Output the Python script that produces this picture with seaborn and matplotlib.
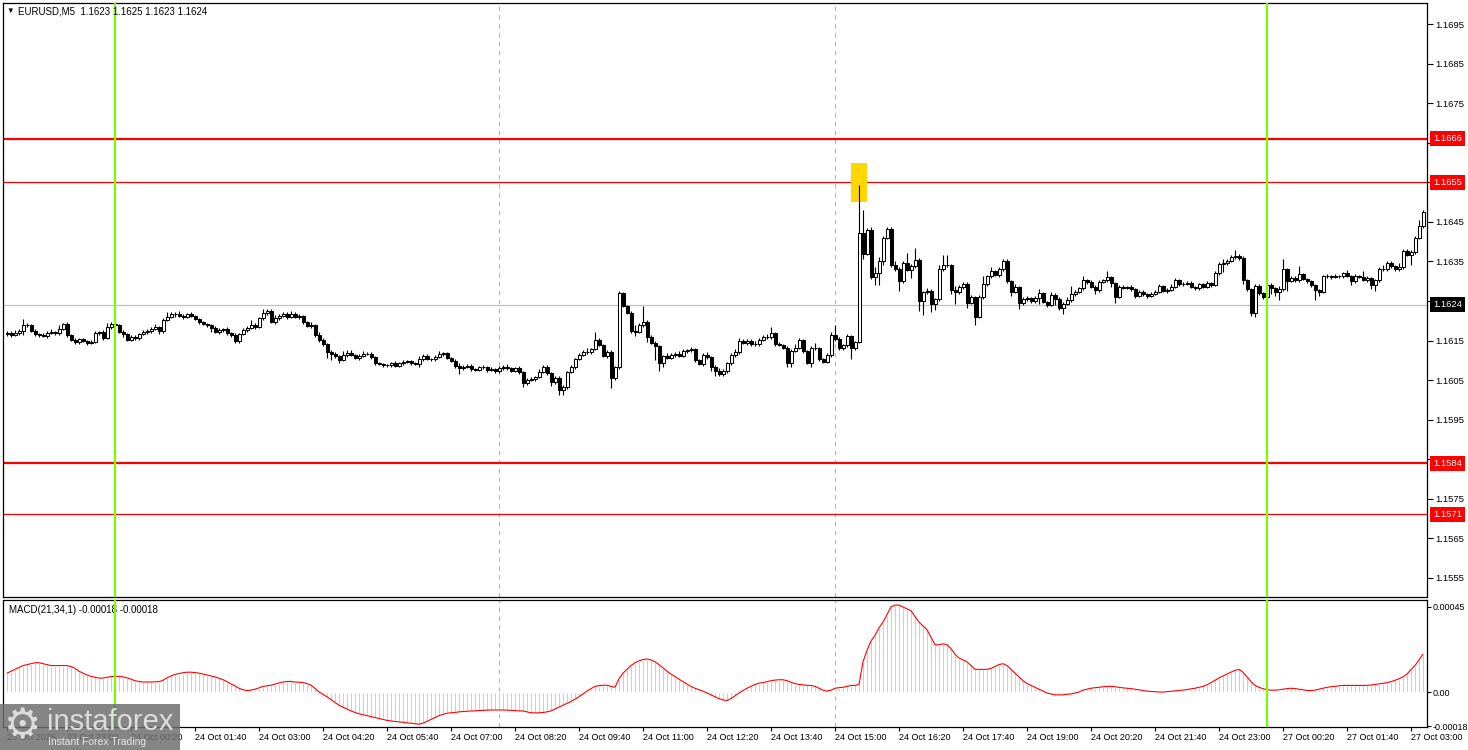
import numpy as np
import pandas as pd
import seaborn as sns
import matplotlib.pyplot as plt
from matplotlib.patches import Rectangle

# --- data (EURUSD M5), prices in pips above 1.1600 ---
base_price = 1.16
first_open = 16.6
close_pips = [
    17.0, 16.5, 17.0, 17.5, 19.0, 18.8, 17.5, 16.6, 16.4, 16.2, 17.0, 17.2, 16.8, 18.0, 19.2, 16.4, 15.2, 14.6, 15.3, 14.8,
    14.4, 14.6, 16.8, 17.2, 15.6, 18.4, 19.2, 18.8, 17.2, 16.6, 15.2, 15.9, 15.6, 16.6, 17.2, 17.4, 17.9, 18.4, 17.3, 20.2,
    21.0, 21.8, 21.6, 21.2, 21.0, 21.6, 21.2, 20.5, 19.6, 19.2, 18.8, 18.2, 17.2, 17.6, 17.9, 16.8, 16.4, 14.8, 16.6, 17.6,
    18.2, 19.0, 18.4, 20.6, 21.9, 22.4, 19.8, 20.6, 21.3, 21.8, 21.0, 21.8, 20.9, 21.2, 19.6, 18.6, 19.0, 16.3, 15.2, 14.0,
    12.2, 11.6, 11.0, 10.0, 11.4, 11.8, 11.4, 10.6, 11.2, 11.6, 11.6, 10.8, 9.2, 9.0, 8.8, 8.8, 9.2, 8.6, 9.2, 9.6,
    9.8, 9.2, 9.0, 10.2, 11.0, 10.4, 10.2, 10.9, 11.6, 11.8, 10.6, 9.8, 8.6, 8.0, 8.4, 8.6, 7.8, 7.6, 8.2, 8.2,
    7.6, 7.8, 7.2, 8.0, 8.4, 8.0, 7.4, 8.0, 7.0, 4.2, 5.0, 5.2, 5.8, 7.0, 8.4, 6.8, 4.4, 5.6, 2.6, 3.2,
    7.0, 8.4, 10.4, 11.4, 12.2, 12.0, 12.8, 15.2, 13.9, 11.2, 12.2, 5.4, 8.2, 26.9, 23.8, 22.0, 17.4, 17.2, 18.8, 19.8,
    16.0, 14.4, 13.6, 9.2, 11.0, 10.6, 11.4, 11.6, 11.2, 12.4, 12.6, 12.8, 10.0, 9.0, 11.4, 10.8, 8.4, 7.4, 6.4, 7.3,
    9.2, 11.4, 12.0, 15.0, 14.4, 15.0, 14.0, 14.2, 15.2, 16.0, 15.8, 16.8, 14.2, 13.8, 13.2, 9.2, 12.4, 13.2, 15.2, 12.4,
    9.4, 13.2, 13.0, 10.2, 9.6, 11.4, 16.4, 15.4, 13.0, 13.8, 16.2, 13.2, 14.6, 42.1, 37.0, 43.0, 31.0, 32.0, 35.0, 41.0,
    43.2, 34.0, 33.0, 30.0, 34.6, 32.8, 33.8, 35.4, 25.0, 27.2, 27.6, 24.2, 25.4, 33.0, 34.2, 34.0, 27.8, 27.2, 28.6, 29.4,
    24.6, 26.0, 21.0, 26.0, 29.2, 31.2, 32.6, 31.6, 33.0, 35.2, 30.0, 27.2, 28.6, 24.4, 25.4, 25.8, 25.0, 25.8, 27.0, 24.8,
    24.0, 26.6, 25.6, 23.2, 24.2, 25.2, 26.8, 27.4, 28.2, 30.2, 29.8, 28.6, 27.8, 29.8, 30.2, 31.0, 29.6, 26.0, 28.6, 28.4,
    28.6, 28.0, 26.2, 27.2, 26.8, 26.2, 26.8, 27.4, 28.8, 27.6, 27.8, 28.6, 30.2, 29.2, 29.4, 29.6, 28.6, 28.2, 29.2, 28.6,
    29.6, 29.0, 32.0, 34.4, 34.6, 35.2, 36.1, 36.4, 35.8, 30.2, 28.0, 22.0, 28.8, 27.0, 26.0, 29.0, 28.2, 27.2, 28.0, 33.0,
    30.0, 30.8, 30.2, 31.8, 30.6, 30.0, 29.0, 27.8, 27.2, 31.2, 31.4, 31.0, 31.4, 31.2, 32.0, 31.4, 30.0, 31.2, 31.0, 30.4,
    30.8, 29.0, 30.2, 33.0, 33.2, 34.6, 33.8, 33.0, 33.6, 37.6, 36.6, 37.4, 41.0, 44.0, 47.6,
]
wick_up = [
    0.5, 0.3, 0.6, 0.4, 1.5, 0.5, 0.4, 0.3, 0.3, 0.5, 0.4, 0.6, 0.3, 0.8, 0.3, 0.4, 0.3, 0.5, 0.4, 0.3,
    0.4, 0.6, 0.5, 0.3, 0.4, 1.0, 0.6, 0.8, 0.5, 0.4, 0.3, 0.5, 0.4, 0.3, 0.5, 0.6, 0.4, 0.8, 0.3, 0.5,
    1.2, 0.4, 0.5, 0.8, 0.6, 0.3, 0.5, 0.3, 0.3, 0.4, 0.3, 0.5, 0.4, 0.6, 0.3, 0.4, 0.3, 0.4, 0.3, 0.5,
    0.4, 1.2, 0.5, 0.3, 1.0, 0.5, 0.6, 0.8, 0.4, 0.3, 0.5, 0.7, 0.3, 0.6, 0.3, 0.4, 0.6, 0.3, 0.8, 0.4,
    0.3, 0.4, 0.6, 0.3, 1.0, 0.8, 0.7, 0.3, 0.4, 0.8, 0.6, 0.5, 0.3, 0.4, 0.3, 0.3, 0.4, 0.5, 0.3, 0.4,
    0.3, 0.3, 0.4, 0.8, 0.6, 0.7, 0.3, 0.5, 0.8, 0.4, 0.3, 0.3, 0.4, 0.6, 0.3, 0.4, 0.5, 0.3, 0.4, 0.6,
    0.3, 0.4, 0.3, 0.6, 0.4, 0.7, 0.3, 0.4, 0.5, 0.3, 0.6, 0.5, 0.3, 0.8, 0.4, 0.3, 0.3, 0.5, 0.3, 0.5,
    0.3, 0.4, 0.3, 0.5, 0.4, 0.8, 0.4, 2.0, 0.5, 0.3, 0.4, 0.3, 0.3, 0.6, 0.4, 0.3, 0.4, 1.5, 0.6, 4.0,
    0.4, 0.3, 0.6, 0.3, 0.4, 0.8, 0.5, 0.4, 0.7, 0.4, 0.3, 0.5, 0.3, 0.4, 0.4, 0.8, 0.3, 0.3, 0.6, 0.4,
    0.3, 0.5, 0.8, 0.6, 0.4, 0.3, 0.5, 0.8, 0.4, 0.5, 0.6, 1.5, 0.4, 0.3, 0.3, 0.3, 0.4, 1.0, 0.5, 0.3,
    0.3, 0.4, 1.2, 0.3, 0.3, 0.4, 0.8, 2.6, 0.4, 0.3, 0.5, 0.3, 0.4, 12.3, 6.0, 0.5, 0.6, 1.5, 1.2, 0.5,
    0.5, 0.6, 1.0, 0.5, 0.4, 2.5, 0.5, 3.0, 0.5, 0.4, 0.6, 0.5, 0.4, 1.0, 2.5, 2.5, 0.4, 1.0, 0.5, 0.4,
    0.4, 0.5, 0.3, 0.5, 2.0, 0.4, 1.0, 0.3, 0.5, 0.4, 0.3, 0.4, 0.6, 0.3, 0.5, 0.4, 0.3, 0.5, 1.0, 0.4,
    0.3, 0.6, 0.4, 0.3, 0.5, 0.8, 2.0, 0.5, 0.4, 1.0, 0.3, 0.6, 0.5, 0.4, 0.3, 1.5, 0.4, 0.3, 0.4, 0.5,
    0.3, 0.4, 0.3, 0.6, 0.5, 0.3, 0.4, 0.4, 0.5, 0.3, 0.4, 0.6, 0.5, 0.4, 0.3, 0.5, 0.4, 0.3, 0.4, 0.3,
    0.4, 0.3, 0.5, 0.4, 1.0, 0.5, 0.6, 1.5, 0.4, 0.5, 0.3, 0.4, 0.5, 0.4, 0.3, 0.6, 0.5, 0.4, 0.8, 2.5,
    0.4, 0.5, 0.6, 2.0, 0.4, 0.3, 0.3, 0.4, 0.3, 0.5, 0.4, 0.3, 0.4, 0.3, 0.4, 0.8, 0.3, 0.6, 0.5, 1.5,
    0.5, 0.3, 0.4, 0.5, 1.0, 0.5, 0.4, 0.3, 1.0, 0.5, 0.6, 0.4, 0.5, 1.5, 0.3,
]
wick_dn = [
    0.4, 0.5, 0.3, 0.6, 1.0, 0.4, 0.3, 0.5, 0.4, 0.3, 0.6, 0.4, 0.3, 0.5, 0.4, 0.5, 0.3, 0.4, 0.6, 0.3,
    0.5, 0.4, 0.3, 0.5, 0.4, 0.3, 0.4, 0.5, 0.3, 0.6, 0.4, 0.3, 0.5, 0.4, 0.3, 0.5, 0.4, 0.3, 0.6, 0.3,
    0.3, 0.4, 0.6, 0.3, 0.5, 0.4, 0.3, 0.4, 0.5, 0.3, 0.4, 1.0, 0.3, 0.5, 0.4, 0.3, 0.6, 0.5, 0.4, 0.3,
    0.5, 0.3, 0.4, 0.3, 0.4, 0.5, 0.3, 0.6, 0.4, 0.3, 0.5, 0.4, 0.3, 0.4, 0.5, 0.3, 0.4, 0.5, 0.6, 0.4,
    1.5, 1.5, 0.4, 0.6, 0.3, 0.5, 0.4, 0.3, 0.6, 0.4, 0.3, 0.5, 0.4, 0.3, 0.5, 0.4, 0.6, 0.3, 0.4, 0.3,
    0.4, 0.5, 0.3, 0.8, 0.4, 0.3, 0.5, 0.4, 0.3, 0.5, 0.4, 0.3, 0.6, 1.5, 0.4, 0.3, 0.5, 0.4, 0.3, 0.4,
    0.5, 0.3, 0.4, 0.3, 0.5, 0.4, 0.3, 0.4, 0.6, 1.0, 0.4, 0.3, 0.5, 0.4, 0.3, 0.5, 1.0, 0.4, 1.5, 1.5,
    0.4, 0.3, 0.5, 0.4, 0.3, 0.4, 0.5, 0.3, 0.4, 0.3, 0.5, 2.3, 0.4, 0.5, 0.3, 0.4, 0.5, 1.0, 0.3, 0.4,
    1.5, 0.4, 3.5, 2.0, 1.0, 0.4, 0.3, 0.5, 0.4, 0.3, 0.5, 0.4, 0.5, 0.3, 0.4, 0.5, 1.0, 1.5, 0.4, 0.3,
    0.4, 0.3, 0.5, 0.4, 0.3, 0.5, 0.4, 0.3, 0.5, 0.4, 0.3, 0.4, 0.5, 0.3, 0.4, 1.0, 1.0, 0.4, 0.3, 0.5,
    0.4, 1.0, 0.3, 0.5, 0.4, 0.3, 0.5, 0.4, 0.3, 0.4, 0.5, 3.0, 0.5, 0.3, 1.5, 0.4, 0.5, 2.0, 3.0, 1.0,
    0.4, 0.5, 0.4, 2.5, 0.4, 0.3, 2.0, 0.5, 2.5, 3.5, 0.4, 2.0, 1.5, 0.3, 0.4, 0.5, 1.0, 3.0, 0.4, 0.5,
    1.5, 0.4, 2.0, 0.3, 0.5, 0.4, 0.3, 0.4, 0.5, 0.3, 0.4, 1.0, 0.3, 1.5, 0.4, 0.3, 0.5, 0.4, 1.5, 0.4,
    0.5, 0.3, 1.5, 0.4, 1.5, 0.3, 0.4, 0.5, 0.3, 0.4, 0.5, 0.3, 1.0, 0.4, 0.3, 0.5, 1.0, 1.5, 0.3, 0.4,
    0.3, 0.5, 0.4, 0.3, 0.5, 0.4, 0.3, 0.4, 0.3, 0.4, 0.5, 0.3, 0.4, 0.5, 0.3, 0.4, 0.3, 0.5, 0.4, 0.3,
    0.4, 0.5, 0.3, 0.4, 2.0, 0.4, 0.3, 0.5, 0.4, 1.0, 0.4, 0.8, 1.0, 0.4, 0.5, 0.3, 1.5, 1.0, 2.0, 0.4,
    2.5, 0.3, 0.5, 0.4, 0.3, 0.5, 0.4, 2.5, 1.0, 0.3, 0.4, 0.5, 0.3, 0.4, 0.5, 0.3, 1.0, 0.4, 0.3, 0.4,
    0.5, 1.0, 1.5, 0.4, 0.3, 0.5, 0.4, 0.3, 0.5, 0.4, 0.3, 2.5, 0.4, 0.3, 0.5,
]
# MACD(21,34,1) main line, in units of 1e-5
macd_e5 = [
    10, 11, 12, 13, 14, 14.5, 15, 15.5, 15.5, 15,
    14.5, 14, 14, 14, 14, 14, 13.5, 12.5, 11, 10,
    9, 8.3, 7.8, 7.4, 7.4, 7.8, 8.2, 8.3, 8.3, 8,
    7.5, 6.8, 6, 5.6, 5.3, 5.3, 5.3, 5.4, 5.5, 6.2,
    7.5, 8.5, 9.3, 9.8, 10.2, 10.5, 10.5, 10.3, 10, 9.5,
    9, 8.5, 8, 7.3, 6.5, 5.5, 4.3, 3.2, 2, 1.2,
    0.8, 1, 1.5, 2.2, 3, 3.3, 3.6, 4.2, 4.8, 5.3,
    5.6, 5.6, 5.3, 5.2, 5, 4.5, 3.6, 2, 0, -1.2,
    -2.5, -4, -5.5, -7, -8, -9, -10, -10.8, -11.5, -12,
    -12.5, -13, -13.5, -14, -14.5, -15, -15.3, -15.6, -15.8, -16,
    -16.3, -16.5, -16.8, -17, -16.5, -15.5, -14.5, -13.5, -12.5, -11.8,
    -11.2, -11, -10.8, -10.5, -10.3, -10.2, -10, -10, -9.8, -9.7,
    -9.6, -9.5, -9.5, -9.5, -9.5, -9.6, -9.7, -9.8, -10, -10,
    -10.5, -11, -11, -11, -10.8, -10.5, -10, -9, -8, -7,
    -6, -5, -3.8, -2.5, -1, 0.5, 1.8, 3, 3.4, 3.6,
    3.6, 3, 2.5, 7, 10, 12, 14, 15.5, 16.5, 17.2,
    17.5, 17, 16, 14.5, 12.8, 11, 9.5, 8.2, 6.8, 5.5,
    4.2, 3, 2, 1.2, 0.5, -0.5, -1.5, -2.5, -3.5, -4.2,
    -4.5, -3.5, -2, -0.5, 0.8, 2, 3, 4, 4.7, 5,
    5.5, 6, 6.3, 6.5, 6.5, 6, 5.2, 4.5, 4, 3.8,
    3.5, 3.5, 3, 2, 1, 0.5, 1, 2, 2.3, 2.5,
    3, 3.5, 3.5, 4, 16, 22, 27, 30, 34, 37,
    41, 45, 46, 46, 45, 44, 43, 40, 37, 35,
    33, 29, 25, 25, 25.5, 25, 23, 20, 18, 17,
    16, 14, 12, 12, 12, 12, 12.5, 13.5, 14.5, 15,
    14, 12, 10, 8, 6, 4.5, 3.5, 2.5, 1.5, 0.5,
    -0.5, -1, -1.5, -1.5, -1.5, -1.2, -1, -0.5, 0, 1,
    1.5, 2, 2.3, 2.5, 2.8, 3, 3, 2.8, 2.5, 2.2,
    2, 1.8, 1.5, 1.2, 0.8, 0.5, 0.3, 0.2, 0,
    0, 0.2, 0.4, 0.6, 0.8, 1, 1.3, 1.7, 2, 2.5,
    3, 3.8, 5, 6.2, 7.5, 8.5, 9.5, 10.5, 11.5, 12,
    10.5, 8, 5.5, 3.5, 2.5, 1.8, 1.2, 1, 1, 1.2,
    1.5, 1.8, 2, 1.8, 1.5, 1.2, 0.8, 0.8, 1, 1.5,
    2, 2.5, 2.8, 3, 3.3, 3.5, 3.5, 3.5, 3.5, 3.5,
    3.5, 3.5, 3.7, 4, 4.3, 4.6, 5, 5.5, 6.2, 7,
    8, 9.5, 12, 14, 17, 20,
]

price_ticks = [1.1555, 1.1565, 1.1575, 1.1585, 1.1595, 1.1605, 1.1615, 1.1625,
               1.1635, 1.1645, 1.1655, 1.1665, 1.1675, 1.1685, 1.1695]
levels = [1.1666, 1.1655, 1.1584, 1.1571]
level_thick = [True, False, True, False]
bid_price = 1.1624
x_labels = ["23 Oct 2025", "23 Oct 23:00", "24 Oct 00:20", "24 Oct 01:40", "24 Oct 03:00",
            "24 Oct 04:20", "24 Oct 05:40", "24 Oct 07:00", "24 Oct 08:20", "24 Oct 09:40",
            "24 Oct 11:00", "24 Oct 12:20", "24 Oct 13:40", "24 Oct 15:00", "24 Oct 16:20",
            "24 Oct 17:40", "24 Oct 19:00", "24 Oct 20:20", "24 Oct 21:40", "24 Oct 23:00",
            "27 Oct 00:20", "27 Oct 01:40", "27 Oct 03:00"]
green_marks = ["2025-10-24 00:00", "2025-10-27 00:00"]
dashed_marks = ["2025-10-24 08:00", "2025-10-24 15:00"]
signal_bar = "2025-10-24 15:30"
signal_zone = (1.1650, 1.1660)
title = "EURUSD,M5  1.1623 1.1625 1.1623 1.1624"
macd_title = "MACD(21,34,1) -0.00018 -0.00018"

# ---
sns.set_theme(style="white", rc={"axes.edgecolor": "black", "text.color": "black",
                                 "xtick.color": "black", "ytick.color": "black"})
plt.rcParams["font.family"] = ["Liberation Sans", "DejaVu Sans"]

pip = 0.0001
close = base_price + np.array(close_pips) * pip
open_ = np.concatenate([[base_price + first_open * pip], close[:-1]])
high = np.maximum(open_, close) + np.array(wick_up) * pip
low = np.minimum(open_, close) - np.array(wick_dn) * pip

fri = pd.date_range("2025-10-23 21:45", "2025-10-24 23:55", freq="5min")
mon = pd.date_range("2025-10-27 00:00", periods=len(close) - len(fri), freq="5min")
times = fri.append(mon)
bar_pos = {t: k for k, t in enumerate(times)}

df = pd.DataFrame({"time": times, "open": open_, "high": high, "low": low,
                   "close": close, "macd": np.array(macd_e5) * 1e-5})
df["x"] = np.arange(len(df))
up = df["close"] >= df["open"]

W, H = 1468, 750
fig = plt.figure(figsize=(W / 100, H / 100), dpi=100)
ax = fig.add_axes([3 / W, 153 / H, 1424 / W, 594 / H])
axm = fig.add_axes([3 / W, 23 / H, 1424 / W, 127 / H])

# price panel
ax.vlines(df["x"], df["low"], df["high"], color="black", lw=0.8, zorder=3)
ax.bar(df["x"], (df["close"] - df["open"]).abs(), bottom=df[["open", "close"]].min(axis=1),
       width=0.75, color=np.where(up, "white", "black"), edgecolor="black", linewidth=0.75,
       zorder=4)


def side_label(a, y, text, face):
    a.annotate(text, xy=(1, y), xycoords=("axes fraction", "data"),
               xytext=(4.3, 0), textcoords="offset points", ha="left", va="center",
               fontsize=6.8, color="white", annotation_clip=False, zorder=10,
               bbox=dict(boxstyle="square,pad=0.32", fc=face, ec="none"))


for lvl, thick in zip(levels, level_thick):
    ax.axhline(lvl, color="red", lw=1.6 if thick else 0.9, zorder=2)
    side_label(ax, lvl, f"{lvl:.4f}", "red")
ax.axhline(bid_price, color="#c0c0c0", lw=0.9, zorder=1)
side_label(ax, bid_price, f"{bid_price:.4f}", "black")

sx = bar_pos[pd.Timestamp(signal_bar)]
ax.add_patch(Rectangle((sx - 2, signal_zone[0]), 4, signal_zone[1] - signal_zone[0],
                       facecolor="#ffd700", edgecolor="none", zorder=2.5))

for a in (ax, axm):
    for t in green_marks:
        a.axvline(bar_pos[pd.Timestamp(t)], color="#7cfc00", lw=1.6, zorder=5)
    for t in dashed_marks:
        a.axvline(bar_pos[pd.Timestamp(t)], color="#a8c878", lw=0.8, ls=(0, (4, 4)), zorder=1)
    a.set_xlim(-1, len(df))
    for s in a.spines.values():
        s.set_color("black")
        s.set_linewidth(0.9)

ax.set_ylim(1.15501, 1.17004)
ax.yaxis.tick_right()
ax.set_yticks(price_ticks, [f"{p:.4f}" for p in price_ticks])
ax.tick_params(axis="y", right=True, direction="out", length=4, width=0.8, labelsize=6.8, pad=2)
ax.set_xticks([])
ax.set(xlabel="", ylabel="")

# MACD panel
axm.bar(df["x"], df["macd"], width=0.5, color="#b0b0b0", zorder=2)
sns.lineplot(data=df, x="x", y="macd", ax=axm, color="red", lw=0.8, zorder=3)
axm.set_ylim(-0.000185, 0.000487)
axm.yaxis.tick_right()
axm.set_yticks([0.00045, 0.0, -0.00018], ["0.00045", "0.00", "-0.00018"])
axm.tick_params(axis="y", right=True, direction="out", length=3, width=0.8, labelsize=6.5, pad=1)
axm.set(xlabel="", ylabel="")
axm.text(0.004, 0.96, macd_title, transform=axm.transAxes, fontsize=7, va="top", ha="left")

tick_pos = [0] + [bar_pos[pd.to_datetime(lab + " 2025", format="%d %b %H:%M %Y")] for lab in x_labels[1:]]
axm.set_xticks(tick_pos, x_labels, ha="left")
axm.tick_params(axis="x", bottom=True, direction="out", length=3, width=0.8, labelsize=6.5, pad=1)

# header
fig.text(6 / W, 1 - 11 / H, "\u25bc", fontsize=5.5, va="center", ha="left")
fig.text(18 / W, 1 - 11 / H, title, fontsize=7, va="center", ha="left")

# watermark
fig.patches.append(Rectangle((0, 0), 180 / W, 46 / H, transform=fig.transFigure,
                             facecolor="#707070", alpha=0.85, edgecolor="none", zorder=5))
fig.text(3 / W, 24 / H, "\u2699", fontsize=30, color="#dcdcdc", va="center", ha="left", zorder=6,
         family=["DejaVu Sans"])
fig.text(47 / W, 28 / H, "instaforex", fontsize=21, color="#dcdcdc", va="center", ha="left", zorder=6)
fig.text(48 / W, 8 / H, "Instant Forex Trading", fontsize=7.5, color="#e6e6e6", va="center", ha="left", zorder=6)

fig.savefig("out.png", dpi=100)
